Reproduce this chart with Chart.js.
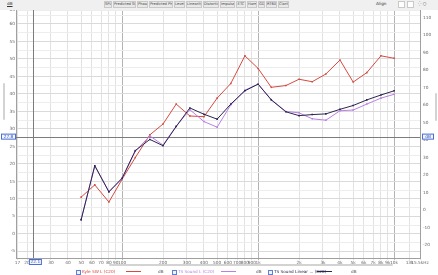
<!DOCTYPE html>
<html>
<head>
<meta charset="utf-8">
<script src="https://cdn.jsdelivr.net/npm/chart.js@4/dist/chart.umd.min.js"></script>
<style>
  body { margin: 0; width: 438px; height: 275px; overflow: hidden; background: #fff; font-family: "DejaVu Sans", sans-serif; position: relative; }
  #chart { position: absolute; left: 0; top: 0; }
  #bar { position: absolute; left: 0; top: 0; width: 438px; height: 10px; background: #f0f0f0; }
  .tab { position: absolute; top: 1px; height: 7px; box-sizing: border-box; border: 1px solid #c9c9c9; background: #e9e9e9; font-size: 3.6px; line-height: 5px; text-align: center; color: #444; white-space: nowrap; overflow: hidden; }
  .txt { position: absolute; font-size: 4.2px; line-height: 5px; white-space: nowrap; color: #555; }
  .chk { position: absolute; top: 270px; width: 3px; height: 3px; border: 1px solid #5d7fd6; background: #eef3ff; }
  .sw { position: absolute; top: 271px; height: 1px; }
  .scroll { position: absolute; background: #d3d3d3; border-radius: 1px; }
</style>
</head>
<body>
<canvas id="chart" width="438" height="275"></canvas>
<div id="bar"></div>
<div class="txt" style="left:7px;top:1px;text-decoration:underline;color:#333">dB</div>
<div class="txt" style="left:376px;top:1px;color:#333">Align</div>
<div class="tab" style="left:398px;width:7px;background:#fff"></div>
<div class="tab" style="left:407px;width:7px;background:#fff"></div>
<div class="txt" style="left:418px;top:1px;color:#333">⁛ ○</div>
<div class="scroll" style="left:3px;top:83px;width:2px;height:37px"></div>
<div class="scroll" style="left:435px;top:93px;width:2px;height:28px"></div>
<div class="scroll" style="left:109px;top:264px;width:284px;height:2px"></div>
<div id="legend"></div>

<script>
// 1/3 octave points, Hz
const freqs = [50, 63, 80, 100, 125, 160, 200, 250, 315, 400, 500, 630, 800, 1000, 1250, 1600, 2000, 2500, 3150, 4000, 5000, 6300, 8000, 10000];

// dB values
const kyleSW = [10.5, 14.0, 9.1, 15.6, 21.8, 28.3, 31.4, 37.1, 33.7, 33.5, 38.8, 43.0, 50.9, 47.3, 41.9, 42.4, 44.2, 43.5, 45.7, 49.7, 43.4, 46.1, 50.9, 50.2];
const tsSound = [4.2, 19.4, 12.1, 15.8, 23.6, 28.0, 25.4, 30.8, 35.5, 32.1, 30.5, 36.9, 41.1, 42.8, 38.4, 35.0, 34.6, 32.9, 32.5, 35.2, 35.4, 37.1, 38.8, 39.9];
const tsLinear = [4.0, 19.5, 12.0, 15.9, 23.8, 27.0, 25.2, 30.7, 36.0, 34.2, 32.8, 37.1, 40.9, 42.8, 38.3, 34.9, 33.8, 34.1, 34.3, 35.6, 36.7, 38.3, 39.7, 40.9];

const seriesNames = ['Kyle SW L (C20)', 'TS Sound L (C20)', 'TS Sound Linear ... (C20)'];
const seriesColors = ['#d64a3f', '#b97fe3', '#2c2550'];

const xTicks = [17, 20, 30, 40, 50, 60, 70, 80, 90, 100, 200, 300, 400, 500, 600, 700, 800, 900, 1000, 2000, 3000, 4000, 5000, 6000, 7000, 8000, 9000, 10000, 13000, 15500];
const xTickLabels = ['17', '20', '30', '40', '50', '60', '70', '80', '90', '100', '200', '300', '400', '500', '600', '700', '800', '900', '1k', '2k', '3k', '4k', '5k', '6k', '7k', '8k', '9k', '10k', '13k', '15.5kHz'];

const rightTicks = [-20, -10, 0, 10, 20, 30, 40, 50, 60, 70, 80, 90, 100, 110];

// cursor readout
const cursorFreq = 22.1;
const cursorLevel = 27.8;

// tabs of the toolbar
const tabs = [
    ['SPL', 104, 8], ['Predicted SPL', 113, 23], ['Phase', 137, 11], ['Predicted Phase', 149, 24],
    ['Level', 174, 11], ['Linearity', 186, 16], ['Distortion', 203, 16], ['Impulse', 220, 15],
    ['ETC', 236, 10], ['Harm', 247, 10], ['GD', 258, 7], ['RT60', 266, 11], ['Clarity', 278, 11]
];

const bar = document.getElementById('bar');
tabs.forEach(t => {
    const d = document.createElement('div');
    d.className = 'tab';
    d.style.left = t[1] + 'px';
    d.style.width = t[2] + 'px';
    d.textContent = t[0];
    bar.appendChild(d);
});

// legend under the chart
const legend = document.getElementById('legend');
const legendPos = [[76, 126, 158], [172, 221, 256], [268, 317, 351]];
seriesNames.forEach((name, i) => {
    const p = legendPos[i];
    legend.insertAdjacentHTML('beforeend',
        `<div class="chk" style="left:${p[0]}px"></div>` +
        `<div class="txt" style="left:${p[0] + 6}px;top:269px;color:${seriesColors[i]}">${name}</div>` +
        `<div class="sw" style="left:${p[1]}px;width:15px;background:${seriesColors[i]}"></div>` +
        `<div class="txt" style="left:${p[2]}px;top:269px">dB</div>`);
});

function makeSet(label, values, color, order) {
    return {
        label: label,
        data: freqs.map((f, i) => ({ x: f, y: values[i] })),
        borderColor: color,
        backgroundColor: color,
        borderWidth: 1,
        pointStyle: 'rect',
        pointRadius: 1.1,
        pointBorderWidth: 0,
        order: order
    };
}

const cursorPlugin = {
    id: 'cursor',
    beforeDatasetsDraw(chart) {
        const ctx = chart.ctx;
        const a = chart.chartArea;
        const px = chart.scales.x.getPixelForValue(cursorFreq);
        const py = chart.scales.y.getPixelForValue(cursorLevel);
        ctx.save();
        ctx.strokeStyle = '#7c7c7c';
        ctx.lineWidth = 1;
        ctx.beginPath();
        ctx.moveTo(a.left, Math.round(py) + 0.5);
        ctx.lineTo(a.right, Math.round(py) + 0.5);
        ctx.moveTo(Math.round(px) + 0.5, a.top);
        ctx.lineTo(Math.round(px) + 0.5, a.bottom);
        ctx.stroke();
        ctx.restore();
    },
    afterDraw(chart) {
        const ctx = chart.ctx;
        const a = chart.chartArea;
        const px = chart.scales.x.getPixelForValue(cursorFreq);
        const py = chart.scales.y.getPixelForValue(cursorLevel);
        const box = (x, y, w, h, text) => {
            ctx.fillStyle = '#f3f6ff';
            ctx.fillRect(x, y, w, h);
            ctx.strokeStyle = '#4a6fd0';
            ctx.strokeRect(x + 0.5, y + 0.5, w - 1, h - 1);
            ctx.fillStyle = '#3555c0';
            ctx.font = '4.3px "DejaVu Sans"';
            ctx.textAlign = 'center';
            ctx.textBaseline = 'middle';
            ctx.fillText(text, x + w / 2, y + h / 2 + 0.3);
        };
        ctx.save();
        box(1, py - 3, 15, 6, cursorLevel.toFixed(1));
        box(px - 4, a.bottom + 1, 13, 6, cursorFreq.toFixed(1));
        box(a.right + 2, py - 3, 12, 6, 'dB');
        ctx.restore();
    }
};

const tickFont = { family: 'DejaVu Sans', size: 4.3 };

new Chart(document.getElementById('chart').getContext('2d'), {
    type: 'line',
    data: {
        datasets: [
            makeSet(seriesNames[0], kyleSW, seriesColors[0], 2),
            makeSet(seriesNames[1], tsSound, seriesColors[1], 1),
            makeSet(seriesNames[2], tsLinear, seriesColors[2], 0)
        ]
    },
    options: {
        responsive: false,
        animation: false,
        devicePixelRatio: 1,
        layout: { padding: { top: 10, left: 0, right: 0, bottom: 0 } },
        plugins: { legend: { display: false }, tooltip: { enabled: false } },
        scales: {
            x: {
                type: 'logarithmic',
                min: 16.6,
                max: 15500,
                afterBuildTicks: scale => { scale.ticks = xTicks.map(v => ({ value: v })); },
                afterFit: scale => { scale.height = 17; },
                ticks: {
                    autoSkip: false,
                    maxRotation: 0,
                    padding: 0,
                    font: tickFont,
                    color: '#666',
                    callback: (v, i) => xTickLabels[i]
                },
                grid: {
                    color: c => [100, 1000, 10000].includes(c.tick.value) ? '#b4b4b4' : '#e2e2e2',
                    tickLength: 2
                },
                border: { color: '#a0a0a0' }
            },
            y: {
                position: 'left',
                min: -6.9,
                max: 64,
                afterBuildTicks: scale => {
                    const t = [];
                    for (let v = -5; v <= 62.5; v += 2.5) t.push({ value: v });
                    t.push({ value: 64 });
                    scale.ticks = t;
                },
                afterFit: scale => { scale.width = 16; },
                ticks: {
                    padding: 1,
                    font: tickFont,
                    color: '#666',
                    callback: v => (v % 5 === 0 || v === 64) ? String(v) : ''
                },
                grid: {
                    color: c => c.tick.value % 5 === 0 ? '#dadada' : '#ededed',
                    tickLength: 0
                },
                border: { color: '#a0a0a0' }
            },
            y2: {
                position: 'right',
                min: -27.4,
                max: 114.3,
                afterBuildTicks: scale => { scale.ticks = rightTicks.map(v => ({ value: v })); },
                afterFit: scale => { scale.width = 18; },
                ticks: { padding: 3, font: tickFont, color: '#666' },
                grid: { drawOnChartArea: false, tickLength: 0 },
                border: { color: '#a0a0a0' }
            }
        }
    },
    plugins: [cursorPlugin]
});
</script>
</body>
</html>
